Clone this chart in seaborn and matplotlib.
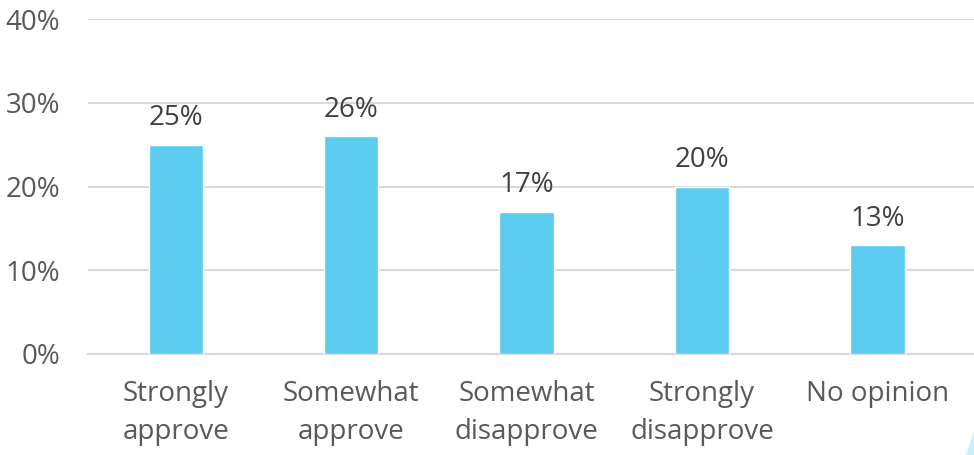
import matplotlib
matplotlib.use("Agg")
import matplotlib.pyplot as plt
import seaborn as sns
import pandas as pd
from matplotlib.patches import Polygon

categories = ["Strongly\napprove", "Somewhat\napprove", "Somewhat\ndisapprove", "Strongly\ndisapprove", "No opinion"]
values = [25, 26, 17, 20, 13]
yticks = [0, 10, 20, 30, 40]

sns.set_theme(style="white")
plt.rcParams['font.family'] = ['Open Sans', 'DejaVu Sans']

df = pd.DataFrame({"cat": categories, "val": values})

fig = plt.figure(figsize=(9.74, 4.55), dpi=100)
ax = fig.add_axes([88/974, 101/455, 1 - 88/974, (354-19)/455])

sns.barplot(data=df, x="cat", y="val", color="#5BCBEF", width=0.31,
            saturation=1, ax=ax, zorder=3)

ax.set_ylim(0, 40)
ax.set_xlim(-0.5, 4.55)
ax.set_yticks(yticks)
ax.set_yticklabels([f"{t}%" for t in yticks])
ax.yaxis.grid(True, color="#D9D9D9", linewidth=1.5, zorder=0)
ax.xaxis.grid(False)
for s in ["top", "right", "left"]:
    ax.spines[s].set_visible(False)
ax.spines["bottom"].set_color("#D9D9D9")
ax.spines["bottom"].set_linewidth(1.5)
ax.set_xlabel("")
ax.set_ylabel("")
ax.tick_params(axis="y", labelsize=20, colors="#595959", length=0, pad=20)
ax.tick_params(axis="x", labelsize=20, colors="#595959", length=0, pad=19)
for lbl in ax.get_xticklabels():
    lbl.set_linespacing(1.45)

for i, v in enumerate(values):
    ax.annotate(f"{v}%", (i, v), xytext=(0, 9), textcoords="offset points",
                ha="center", va="bottom", fontsize=20, color="#404040")

# decorative corner shape
fig.patches.append(Polygon([[966/974, 0], [974/974, 0], [974/974, 24/455]],
                           closed=True, transform=fig.transFigure,
                           facecolor="#CDEFFB", edgecolor="none"))

fig.savefig("out.png", dpi=100)
